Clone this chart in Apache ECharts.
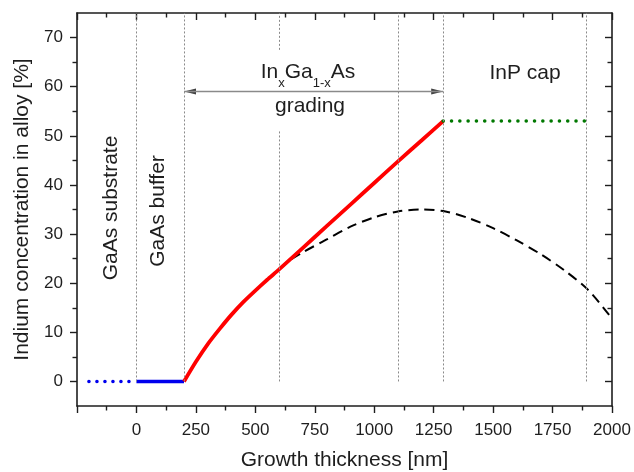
<!DOCTYPE html>
<html>
<head>
<meta charset="utf-8">
<title>Indium concentration</title>
<script src="https://cdn.jsdelivr.net/npm/echarts@6/dist/echarts.min.js"></script>
<style>html,body{margin:0;padding:0;background:#fff;}</style>
</head>
<body>
<div id="main" style="width:634px;height:472px;"></div>
<script type="text/javascript">
var myChart = echarts.init(document.getElementById('main'));

// ticks
var yMajor = [0, 10, 20, 30, 40, 50, 60, 70];
var yMinor = [5, 15, 25, 35, 45, 55, 65];

// layers (x in nm, y in %)
var substrateX = [-200, 0];
var substrateY = [0, 0];
var bufferX = [0, 200];
var bufferY = [0, 0];
var gradingX = [200, 250, 300, 350, 400, 450, 500, 550, 600, 700, 800, 900, 1000, 1100, 1200, 1290];
var gradingY = [0, 4.0, 7.6, 10.7, 13.6, 16.2, 18.5, 20.7, 22.8, 27.2, 31.6, 36.0, 40.4, 44.8, 49.1, 53.0];
var capX = [1290, 1890];
var capY = [53, 53];
// dashed curve
var curveX = [600, 650, 700, 800, 900, 1000, 1100, 1200, 1300, 1400, 1500, 1600, 1700, 1800, 1900, 2000];
var curveY = [22.8, 24.8, 26.3, 28.9, 31.5, 33.4, 34.6, 35.0, 34.6, 33.2, 31.2, 28.7, 25.9, 22.6, 18.6, 12.8];

// dotted guide lines: [x, yFrom, yTo]
var guides = [[0, 0, 75], [200, 0, 75], [600, 0, 51], [600, 67.5, 75], [1100, 0, 75], [1290, 0, 75], [1890, 0, 75]];
var arrowX = [200, 1290];
var arrowY = 59;

function zip(xs, ys) {
    var out = [];
    for (var i = 0; i < xs.length; i++) out.push([xs[i], ys[i]]);
    return out;
}

var font = 'Liberation Sans, Arial, sans-serif';
var ink = '#1e1e1e';

var guideLines = guides.map(function (g) {
    return [{coord: [g[0], g[1]]}, {coord: [g[0], g[2]]}];
});

function xAx(pos) {
    var inside = pos === 'top';
    return {
        type: 'value', position: pos, min: -250, max: 2000, interval: 250,
        axisLine: {show: true, onZero: false, lineStyle: {color: ink, width: 1.6}},
        axisTick: {show: true, inside: inside, length: 7, lineStyle: {color: ink, width: 1.4}},
        minorTick: {show: true, splitNumber: 2, length: 4.5, lineStyle: {color: ink, width: 1.4}},
        splitLine: {show: false},
        axisLabel: {
            show: !inside, margin: 16, color: ink, fontSize: 17, fontFamily: font,
            formatter: function (v) { return v < 0 ? '' : String(v); }
        }
    };
}

function yAx(pos, ticks, len, showLine, showLabel) {
    return {
        type: 'value', position: pos, min: -5, max: 75,
        axisLine: {show: showLine, onZero: false, lineStyle: {color: ink, width: 1.6}},
        axisTick: {show: true, inside: pos === 'right', length: len, customValues: ticks, lineStyle: {color: ink, width: 1.4}},
        splitLine: {show: false},
        axisLabel: {show: showLabel, customValues: yMajor, margin: 14, color: ink, fontSize: 17, fontFamily: font}
    };
}

var xBottom = xAx('bottom');
xBottom.name = 'Growth thickness [nm]';
xBottom.nameLocation = 'middle';
xBottom.nameGap = 44;
xBottom.nameTextStyle = {color: ink, fontSize: 21, fontFamily: font};

var yLeft = yAx('left', yMajor, 7, true, true);
yLeft.name = 'Indium concentration in alloy [%]';
yLeft.nameLocation = 'middle';
yLeft.nameGap = 44;
yLeft.nameTextStyle = {color: ink, fontSize: 21, fontFamily: font};

option = {
    animation: false,
    grid: {left: 77, right: 22, top: 13, bottom: 66, outerBoundsMode: 'none'},
    xAxis: [xBottom, xAx('top')],
    yAxis: [
        yLeft,
        yAx('left', yMinor, 4.5, false, false),
        yAx('right', yMajor, 7, true, false),
        yAx('right', yMinor, 4.5, false, false)
    ],
    graphic: [
        {type: 'text', x: 111, y: 208, rotation: Math.PI / 2,
         style: {text: 'GaAs substrate', align: 'center', verticalAlign: 'middle', fill: ink, fontSize: 21, fontFamily: font}},
        {type: 'text', x: 158, y: 211, rotation: Math.PI / 2,
         style: {text: 'GaAs buffer', align: 'center', verticalAlign: 'middle', fill: ink, fontSize: 21, fontFamily: font}},
        {type: 'text', x: 308, y: 62,
         style: {
             text: '{a|In}{s|x}{a|Ga}{s|1-x}{a|As}', align: 'center', verticalAlign: 'top', fill: ink,
             rich: {
                 a: {fontSize: 21, fontFamily: font, verticalAlign: 'top', fill: ink},
                 s: {fontSize: 13, fontFamily: font, verticalAlign: 'top', padding: [15, 0, 0, 0], fill: ink}
             }
         }},
        {type: 'text', x: 310, y: 106,
         style: {text: 'grading', align: 'center', verticalAlign: 'middle', fill: ink, fontSize: 21, fontFamily: font}},
        {type: 'text', x: 525, y: 73,
         style: {text: 'InP cap', align: 'center', verticalAlign: 'middle', fill: ink, fontSize: 21, fontFamily: font}}
    ],
    series: [
        {
            type: 'line', data: [], silent: true,
            markLine: {
                silent: true, symbol: ['none', 'none'], label: {show: false},
                lineStyle: {type: [2, 2], color: '#8a8a8a', width: 1},
                data: guideLines
            }
        },
        {
            type: 'line', data: zip(curveX, curveY), showSymbol: false, smooth: 0.3,
            lineStyle: {color: '#000', width: 2, type: [10, 6]}
        },
        {
            type: 'line', data: zip(substrateX, substrateY), showSymbol: false,
            lineStyle: {color: '#0000ee', width: 3.5, type: [0.1, 7.9], cap: 'round'}
        },
        {
            type: 'line', data: zip(bufferX, bufferY), showSymbol: false,
            lineStyle: {color: '#0000ee', width: 3.5}
        },
        {
            type: 'line', data: zip(gradingX, gradingY), showSymbol: false, smooth: 0.2,
            lineStyle: {color: '#ff0000', width: 3.8}
        },
        {
            type: 'line', data: zip(capX, capY), showSymbol: false,
            lineStyle: {color: '#007800', width: 3.5, type: [0.1, 8.2], cap: 'round'}
        },
        {
            type: 'line', data: [[arrowX[0], arrowY], [arrowX[1], arrowY]], showSymbol: false,
            lineStyle: {color: '#8a8a8a', width: 1.5}
        },
        {
            type: 'scatter', symbol: 'triangle', symbolSize: [6, 12], silent: true,
            itemStyle: {color: '#111'},
            data: [
                {value: [arrowX[0], arrowY], symbolRotate: 90, symbolOffset: [6, 0]},
                {value: [arrowX[1], arrowY], symbolRotate: -90, symbolOffset: [-6, 0]}
            ]
        }
    ]
};

myChart.setOption(option);
</script>
</body>
</html>
